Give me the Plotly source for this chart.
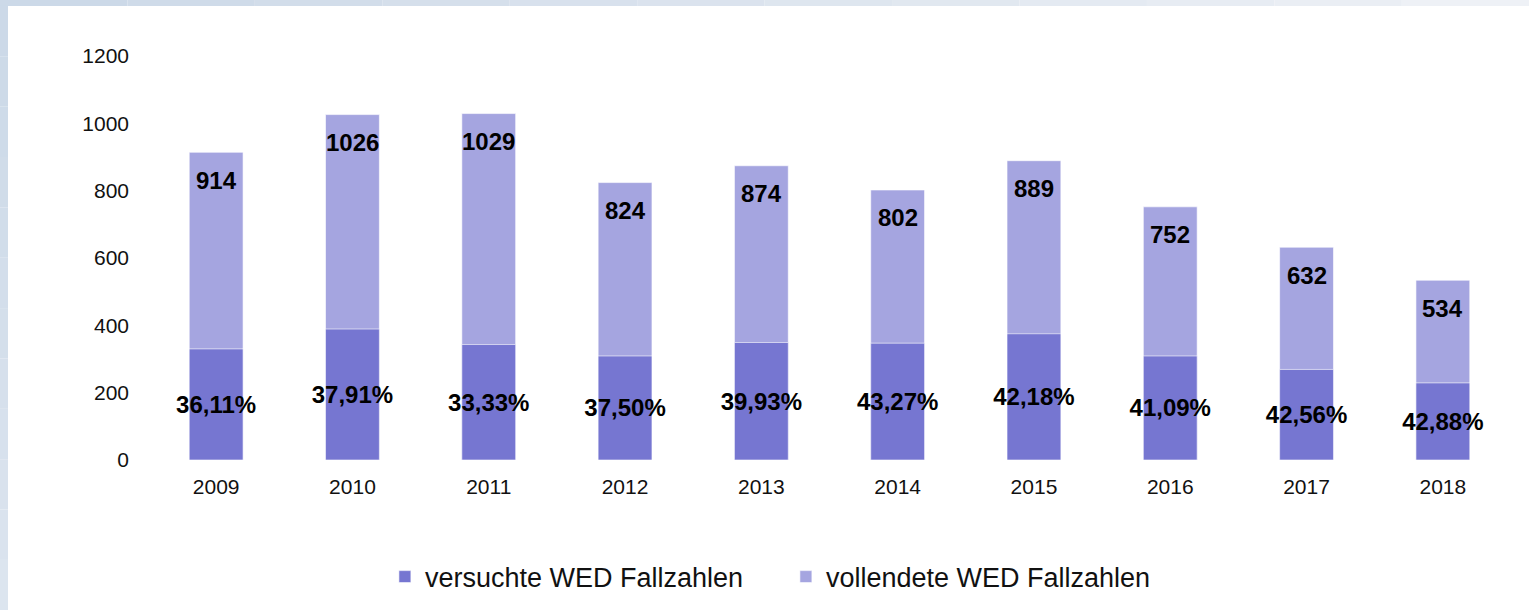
import plotly.graph_objects as go

jahre = ["2009", "2010", "2011", "2012", "2013", "2014", "2015", "2016", "2017", "2018"]
# Gesamtzahl der Fälle (Beschriftung oben im hellen Balken)
gesamt = [914, 1026, 1029, 824, 874, 802, 889, 752, 632, 534]
# versuchte Fälle (Höhe des dunklen Balkens)
versucht = [330, 389, 343, 309, 349, 347, 375, 309, 269, 229]
anteil = ["36,11%", "37,91%", "33,33%", "37,50%", "39,93%",
          "43,27%", "42,18%", "41,09%", "42,56%", "42,88%"]

DUNKEL = "#7676d1"
HELL = "#a5a5e0"

fig = go.Figure()
fig.add_bar(
    x=jahre, y=gesamt, name="vollendete WED Fallzahlen",
    marker=dict(color=HELL, line=dict(color="rgba(255,255,255,0.6)", width=1)),
    legendrank=2, hoverinfo="x+y",
)
fig.add_bar(
    x=jahre, y=versucht, name="versuchte WED Fallzahlen",
    marker=dict(color=DUNKEL, line=dict(color="rgba(255,255,255,0.6)", width=1)),
    text=anteil, textposition="inside", insidetextanchor="middle",
    textangle=0, constraintext="none", cliponaxis=False,
    textfont=dict(family="Liberation Sans", size=24, color="black", weight="bold"),
    legendrank=1, hoverinfo="x+y",
)

# Summen oben im Balken (Kategorie-Index als x)
for i, g in enumerate(gesamt):
    fig.add_annotation(
        x=i, y=g, text=str(g), showarrow=False, yanchor="middle", yshift=-28,
        font=dict(family="Liberation Sans", size=24, color="black", weight="bold"),
    )

# hellblauer Rahmen links und oben (Farbverlauf grob nachgebildet)
n = 12
for i in range(n):
    t = i / (n - 1)
    top = "rgb(%d,%d,%d)" % (204 + 34 * t, 217 + 24 * t, 232 + 14 * t)
    left = "rgb(%d,%d,%d)" % (204 + 16 * t, 217 + 12 * t, 232 + 7 * t)
    fig.add_shape(type="rect", xref="paper", yref="paper", layer="below",
                  x0=-0.1086 + 1.122 * i / n, x1=-0.1086 + 1.122 * (i + 1) / n,
                  y0=1.1386, y1=1.124, line_width=0, fillcolor=top)
    fig.add_shape(type="rect", xref="paper", yref="paper", layer="below",
                  x0=-0.1086, x1=-0.1027,
                  y0=1.124 - 1.496 * i / n, y1=1.124 - 1.496 * (i + 1) / n,
                  line_width=0, fillcolor=left)

fig.update_layout(
    width=1529, height=610,
    barmode="overlay", bargap=0.605,
    paper_bgcolor="white", plot_bgcolor="white",
    margin=dict(l=148, r=18, t=56, b=150),
    font=dict(family="Liberation Sans", size=21, color="#111111"),
    showlegend=True,
    legend=dict(
        orientation="h", xref="container", yref="container",
        x=0.514, xanchor="center", y=0.054, yanchor="middle",
        font=dict(family="Liberation Sans", size=27, color="#111111"),
        traceorder="normal", entrywidth=356,
    ),
    xaxis=dict(type="category", range=[-0.5, 9.5], showgrid=False,
               showline=False, ticks="", ticklabelstandoff=12,
               tickfont=dict(size=21)),
    yaxis=dict(range=[0, 1200], dtick=200, showgrid=False, showline=False,
               zeroline=False, ticks="", ticklabelstandoff=18,
               tickfont=dict(size=21)),
)

fig.write_html("out.html", config={"displayModeBar": False},
               post_script="document.body.style.margin='0';")
